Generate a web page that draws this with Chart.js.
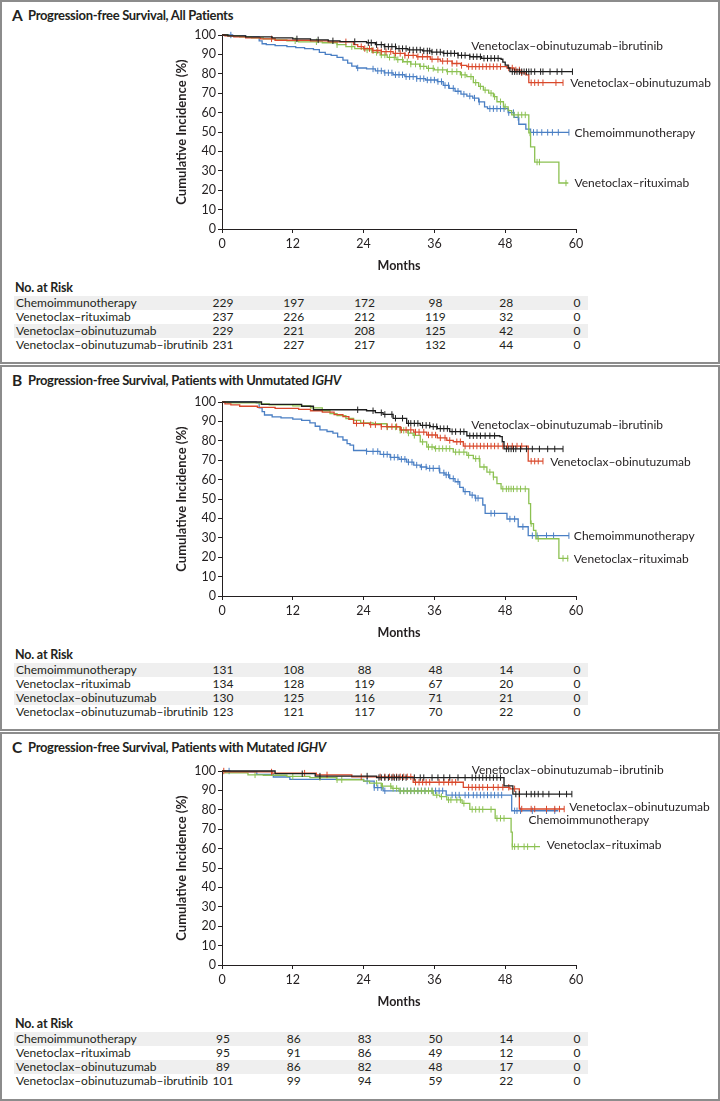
<!DOCTYPE html>
<html>
<head>
<meta charset="utf-8">
<script src="https://cdn.jsdelivr.net/npm/chart.js@4.4.1/dist/chart.umd.min.js"></script>
<style>
    body { margin: 0; width: 720px; height: 1101px; position: relative; background: #fff; overflow: hidden;
           font-family: Lato, "Open Sans", sans-serif; color: #231f20; }
    .frame { position: absolute; left: 0; width: 720px; border: 2px solid #8c8c8c; box-sizing: border-box; }
    .txt { position: absolute; white-space: nowrap; line-height: 16px; height: 16px; }
    .title { font-size: 13px; font-weight: bold; letter-spacing: -0.3px; }
    .letter { font-size: 15.5px; font-weight: bold; }
    .bold { font-weight: bold; font-size: 12.5px; letter-spacing: -0.2px; }
    .row { font-size: 12px; }
    .shade { position: absolute; background: #efefef; }
    canvas { position: absolute; left: 0; }
</style>
</head>
<body>
<script>
// Shared
const months = [0, 12, 24, 36, 48, 60];
const groups = ['Chemoimmunotherapy', 'Venetoclax–rituximab', 'Venetoclax–obinutuzumab', 'Venetoclax–obinutuzumab–ibrutinib'];
const colors = ['#4a7fc4', '#8cc152', '#d9482b', '#1e1e1e'];

// Panel A - all patients  [month, % progression-free]
const chemoA = [[0,100],[1.8,99.5],[4,99],[6.3,97],[6.8,95.5],[7.5,95],[9,94.5],[11,94],[12.5,93.5],[14,93],[15.5,92.5],[16.5,91],[17.5,90],[18.5,89.5],[19.5,88.5],[20.5,87],[21.3,85.5],[22,84],[22.8,83],[24.5,82.5],[26,81.5],[27.5,80.5],[29,79.5],[31,78.5],[33,77.5],[34.5,76.8],[36.5,76],[37.5,74],[38.5,72.5],[39.5,71],[40.5,69.5],[41.5,68.5],[42.5,67.5],[43.5,65.5],[44.5,63],[45,62],[48.5,60],[49.5,57.5],[50.3,54],[51.5,51.5],[52.3,49.8],[58.8,49.8]];
const vrA = [[0,100],[1,99.5],[3,99],[5,98.5],[7,98],[9,97.5],[11,97],[13,96.5],[17,96],[19.5,95],[21,94],[22.5,93],[24,92.3],[25.5,91],[26.8,89.7],[28,88.5],[29.5,87.3],[30.7,86.2],[32,85],[33.5,83.8],[34.7,82.8],[36,82],[38.1,81.1],[40.4,79.4],[41.5,78.5],[42.6,75.5],[43.5,73.5],[44.3,71.6],[45.2,70],[46,68.2],[46.6,65.6],[47.7,63],[48.5,61],[49.1,58.8],[52,49.5],[52.3,42.3],[53,34.5],[57.1,23.7],[58.7,23.7]];
const voA = [[0,100],[0.5,99.5],[2,99],[4,98.5],[6.5,98],[9,97.3],[15,97],[18,96.5],[22.3,95],[23,94],[24,93],[25.5,92],[27,91.4],[29,90.5],[31,89.5],[33,88.8],[35.3,87.5],[37,86.5],[39,85.3],[40.5,84.3],[41.5,83.7],[48.3,83],[49.5,82],[50.5,80.5],[51.5,79.4],[52,75.4],[57.8,75.4]];
const voiA = [[0,100],[1,99.5],[4,99],[8.5,98.5],[12,98],[15,97.5],[18,97],[20,96.6],[24.5,96],[26,95],[27.5,94],[29.5,93],[31.5,92.3],[34,91.8],[35.5,91.2],[37.5,90.5],[40,89.5],[42,88.8],[44,88],[47.3,87.5],[47.6,86],[48,84.5],[48.5,83],[48.8,81.1],[59.4,81.1]];
// censored observations (months)
const chemoCensA = [1.5,23,25.6,26.4,27,27.6,28.2,28.8,29.4,30,30.6,31.2,31.8,32.4,33,33.6,34.2,34.8,35.4,36,36.6,37.2,37.8,38.4,39.2,40,41,42,42.8,43.6,45.4,46,46.6,47.2,47.8,48.6,49.4,50.2,52.8,53.4,54.2,55.2,56,57,58.8];
const vrCensA = [12.4,16,19.5,22,24.6,25.4,26.2,27,27.6,28.4,29.2,29.8,30.6,31.4,32,32.8,33.6,34.2,35,35.8,36.6,37.4,38.2,39,39.8,40.6,41.2,42.2,43,43.8,44.6,45.6,46.2,47.2,48,49.5,50.2,50.8,51.4,52.2,53.4,53.8,58.3];
const voCensA = [8.4,21,23.6,24.2,25,25.6,26.4,27,27.8,28.6,29.4,30.2,31,31.6,32.4,33.2,34,34.8,35.6,36.6,37.4,38.2,39,39.8,40.6,41.8,42.4,43,43.6,44.2,44.8,45.4,46,46.6,47.2,48.6,49.2,49.8,50.4,50.8,52.4,53,53.6,54.4,56.6,57.8];
const voiCensA = [12.7,16.3,18.8,22.5,24.8,25.3,26.2,27,27.6,28.2,28.8,29.4,30,30.6,31.2,31.8,32.4,33,33.6,34.2,34.8,35.2,35.6,36.4,37,37.6,38.2,38.8,39.4,40,40.6,41.2,42,42.6,43.2,43.8,44.4,45,45.6,46.2,46.8,49.2,49.6,50,50.4,50.8,51.2,51.6,52,52.4,53,54,54.4,55.6,56.8,57.6,59.4];
const riskA = [[229,197,172,98,28,0],[237,226,212,119,32,0],[229,221,208,125,42,0],[231,227,217,132,44,0]];

// Panel B - unmutated IGHV
const chemoB = [[0,100],[5.8,99.5],[6.3,97],[6.8,95],[7.2,93.3],[8.5,92.3],[10,91.8],[12,91.2],[13.5,90.5],[14.9,89.2],[15.8,87.5],[16.6,85.6],[17.8,84.8],[18.8,84],[19.6,82],[20.5,80.4],[21.2,78.5],[21.7,77.8],[22.3,75],[24.5,74.5],[26.8,73],[28.5,71.5],[30,70.5],[31.3,69],[32.5,67.5],[33.6,66.5],[34.7,65.8],[36.9,63.5],[37.8,62.4],[38.6,60.5],[39.5,58.9],[40.3,56],[40.9,53.8],[42,52],[42.9,50.4],[44.2,46.9],[44.6,42.6],[48.3,39.7],[50.2,35.7],[51.9,31.1],[58.8,31.1]];
const vrB = [[0,100],[1,99.5],[6.4,99],[8,98.5],[12,98],[15,97],[17,95.5],[18.3,94],[19.5,93],[21,91.5],[22.3,90.5],[23.5,89.2],[25.6,88.8],[27.9,87.1],[30.2,85.4],[31.5,84],[32.4,82.8],[33.6,79.4],[34.7,76.8],[36,76],[39.2,74.2],[41.5,72.5],[42.6,70.8],[43.7,66.5],[44.9,63.9],[46,61.3],[46.6,57.9],[47.3,55.2],[52,47.6],[52.3,37.3],[52.8,33.8],[53.2,29.5],[57.1,19.4],[58.7,19.4]];
const voB = [[0,100],[0.5,99],[1.5,98.5],[3,97.8],[6,97.2],[9,96.7],[13,96.2],[15,95.5],[17,94.8],[19,93.5],[20.5,92.5],[21.5,91],[22.3,89],[25,88.3],[27,87.3],[30.2,85.6],[32.5,84.5],[34.7,83],[36.5,81.5],[38.1,80.2],[39.2,79.5],[40.9,77.3],[51.7,77.3],[51.9,69.5],[54.4,69.5]];
const voiB = [[0,100],[6.7,98.8],[13.5,97.8],[15.5,96],[24.5,95.5],[26,94.5],[27.3,93.6],[29,91.6],[31.3,89],[33.6,88],[35.3,87.3],[36.5,86.3],[38.6,84.7],[41.5,82.6],[47.1,82.2],[47.5,79.5],[47.8,75.8],[57.8,75.8]];
const chemoCensB = [24.5,25.6,26.4,27.4,28,28.6,29.2,29.8,30.4,31,31.6,32.2,33,33.8,34.6,35.2,35.8,36.8,37.6,38,38.4,39.2,40,41.2,42.4,43,43.4,45.6,46.2,48.8,49.6,51,52.6,53.4,55,56.2,58.8];
const vrCensB = [24,28,29.4,30.2,30.8,31.6,32.6,34,35,35.6,36.2,36.8,37.4,38,38.6,39.6,40.2,41,41.8,43,43.6,44.4,45.4,46,47.6,48.2,48.6,49,49.4,50,50.6,51.4,52.4,53.6,57.8,58.6];
const voCensB = [22.8,24,25.2,26,27,28,28.8,29.6,30.4,31.2,32,32.8,33.4,34.2,35,35.6,36.2,37,37.8,38.6,39.8,40.4,41.2,42,42.6,43.2,43.8,44.4,45,45.6,46.2,46.8,47.6,48.4,49.2,50,50.8,52.4,53,53.6,54.4];
const voiCensB = [23,25.6,27,27.6,28.8,29.4,30.6,31.6,32,32.6,33.2,34,34.6,35.2,35.8,36.4,37,37.6,38.2,39,39.6,40.4,41,42,42.6,43.2,43.8,44.6,45.4,46.2,48.2,48.6,49,49.4,49.8,50.6,51.6,52.6,53.8,55.2,56.4,57.8];
const riskB = [[131,108,88,48,14,0],[134,128,119,67,20,0],[130,125,116,71,21,0],[123,121,117,70,22,0]];

// Panel C - mutated IGHV
const chemoC = [[0,100],[1.3,99.5],[5.9,98.3],[8.7,96.9],[11.5,95.7],[24,94.8],[25.8,91.4],[27.3,89.8],[38,87.6],[49.1,79.5],[57,79.5]];
const vrC = [[0,100],[0.5,99],[4.4,98],[7,97.8],[11,97.2],[14.9,96.6],[19.4,95.5],[24,94.8],[25,93.7],[27,92.2],[28.8,91],[30,89.7],[35.8,87.6],[36.9,86.8],[38.1,85.1],[40.7,83.3],[42,80.2],[46.3,75.6],[49,68.5],[49.2,61],[53.9,61]];
const voC = [[0,100],[0.5,99.5],[8.5,98.9],[16,98],[22,97],[32.4,94.2],[40.9,91.6],[48.8,90.8],[50.4,80.4],[58,80.4]];
const voiC = [[0,100],[9,98.6],[15.8,97.4],[26.2,96.6],[47.8,92.3],[49.3,88.1],[59.3,88.1]];
const chemoCensC = [1.2,24.6,25.8,26.4,27,27.6,30.2,30.8,31.4,32,32.6,33.2,33.8,34.4,35,35.6,36.2,36.8,37.4,39,39.6,40.2,41.2,41.8,42.6,43.2,43.8,44.4,45,45.6,46.2,46.8,47.4,49.6,50,50.6,52.6,55,56.4];
const vrCensC = [5.6,12,16.6,19.5,20.3,26.2,27.2,28.6,29,29.6,30.2,30.8,31.4,32,32.6,33.2,33.8,34.4,35,35.6,36.4,37.2,38.4,38.8,39.8,40.4,41,42.4,43,43.6,44.2,45.6,46.6,47.2,47.8,49.2,49.6,50.2,51.2,51.8,53];
const voCensC = [0.3,8.4,14,17.8,23.6,26.8,27.6,28.4,29,29.6,30.2,30.8,31.4,32,32.8,33.4,34,34.6,35.2,36.8,37.6,38.4,39,39.6,41.8,42.4,43,43.6,44.2,45,46,46.8,47.6,48.6,49.6,50.8,52.4,53,55,56.4,57.2,58];
const voiCensC = [13.6,16.6,24.6,26.6,27,27.6,28.2,28.8,29.2,29.6,30,30.6,31.2,32.6,33.6,34.2,35.6,36.6,37.6,38.6,40,41.2,42.4,43,43.6,44.2,44.8,45.4,46,46.6,47.2,49.8,50.4,51.6,52.4,53,53.6,54.4,55.4,57.2,58.4,59.3];
const riskC = [[95,86,83,50,14,0],[95,91,86,49,12,0],[89,86,82,48,17,0],[101,99,94,59,22,0]];

// layout (page pixels) and curve-label anchors (months, %)
const panels = [
    { letter: 'A', title: 'Progression-free Survival, All Patients', italic: '', top: 0, height: 364, plotTop: 35,
      curves: [chemoA, vrA, voA, voiA], cens: [chemoCensA, vrCensA, voCensA, voiCensA], risk: riskA,
      labels: [[59.4, 49.6], [59.4, 23.6], [58.7, 75.3], [41.9, 94.3]] },
    { letter: 'B', title: 'Progression-free Survival, Patients with Unmutated ', italic: 'IGHV', top: 365, height: 366, plotTop: 402,
      curves: [chemoB, vrB, voB, voiB], cens: [chemoCensB, vrCensB, voCensB, voiCensB], risk: riskB,
      labels: [[59.3, 31.1], [59.3, 18.9], [55.3, 68.9], [41.9, 88.1]] },
    { letter: 'C', title: 'Progression-free Survival, Patients with Mutated ', italic: 'IGHV', top: 732, height: 369, plotTop: 771,
      curves: [chemoC, vrC, voC, voiC], cens: [chemoCensC, vrCensC, voCensC, voiCensC], risk: riskC,
      labels: [[51.6, 74.7], [54.7, 61.9], [58.5, 81.3], [42, 100.5]] }
];

const PLOT_H = 194;
const FONT = 'Lato, "Open Sans", sans-serif';

function addText(html, x, yc, cls, align) {
    const d = document.createElement('div');
    d.className = 'txt ' + cls;
    d.innerHTML = html;
    d.style.top = (yc - 8) + 'px';
    if (align === 'center') {
        d.style.left = (x - 50) + 'px';
        d.style.width = '100px';
        d.style.textAlign = 'center';
    } else {
        d.style.left = x + 'px';
    }
    document.body.appendChild(d);
}

// value of the step curve at time t (last point at or before t)
function survivalAt(curve, t) {
    let v = curve[0][1];
    curve.forEach(p => { if (p[0] <= t) v = p[1]; });
    return v;
}

const curveLabels = {
    id: 'curveLabels',
    afterDatasetsDraw(chart, args, opts) {
        const ctx = chart.ctx;
        ctx.save();
        ctx.font = '12px ' + FONT;
        ctx.fillStyle = '#231f20';
        ctx.textBaseline = 'middle';
        opts.items.forEach((l, i) => {
            ctx.fillText(groups[i], chart.scales.x.getPixelForValue(l[0]) + 2, chart.scales.y.getPixelForValue(l[1]));
        });
        ctx.restore();
    }
};

panels.forEach(p => {
    const frame = document.createElement('div');
    frame.className = 'frame';
    frame.style.top = p.top + 'px';
    frame.style.height = p.height + 'px';
    document.body.appendChild(frame);

    addText(p.letter, 12, p.top + 15, 'letter');
    addText(p.title + (p.italic ? '<i>' + p.italic + '</i>' : ''), 28, p.top + 15, 'title');

    const canvas = document.createElement('canvas');
    canvas.width = 720;
    canvas.height = 10 + PLOT_H + 44;
    canvas.style.top = (p.plotTop - 10) + 'px';
    document.body.appendChild(canvas);

    const datasets = [];
    // draw order: first dataset ends on top
    [3, 2, 1, 0].forEach(i => {
        datasets.push({
            data: p.curves[i].map(pt => ({ x: pt[0], y: pt[1] })),
            borderColor: colors[i], borderWidth: 1.3, stepped: 'before',
            pointRadius: 0, fill: false, clip: 6
        });
        datasets.push({
            data: p.cens[i].map(t => ({ x: t, y: survivalAt(p.curves[i], t) })),
            showLine: false, pointStyle: 'line', rotation: 90, pointRadius: 3.2,
            borderColor: colors[i], borderWidth: 1, clip: 6
        });
    });

    const chart = new Chart(canvas.getContext('2d'), {
        type: 'line',
        data: { datasets: datasets },
        options: {
            responsive: false, animation: false, events: [],
            layout: { padding: { top: 10, right: 144, left: 170, bottom: 0 } },
            plugins: { legend: { display: false }, tooltip: { enabled: false }, curveLabels: { items: p.labels } },
            scales: {
                x: {
                    type: 'linear', min: 0, max: 60,
                    afterFit: s => { s.height = 44; },
                    ticks: { stepSize: 12, padding: 3, color: '#231f20', font: { family: FONT, size: 12.5 } },
                    grid: { drawOnChartArea: false, tickLength: 4, color: '#231f20' },
                    border: { color: '#231f20', width: 1 },
                    title: { display: true, text: 'Months', color: '#231f20', padding: 0,
                             font: { family: FONT, size: 12.5, weight: 'bold' } }
                },
                y: {
                    min: 0, max: 100,
                    afterFit: s => { s.width = 52; },
                    ticks: { stepSize: 10, autoSkip: false, padding: 2, color: '#231f20', font: { family: FONT, size: 12.5 } },
                    grid: { drawOnChartArea: false, tickLength: 4, color: '#231f20' },
                    border: { color: '#231f20', width: 1 },
                    title: { display: true, text: 'Cumulative Incidence (%)', color: '#231f20', padding: { top: 4, bottom: 0 },
                             font: { family: FONT, size: 13, weight: 'bold' } }
                }
            }
        },
        plugins: [curveLabels]
    });

    // number at risk table, columns under the x ticks
    const base = p.plotTop + PLOT_H;
    addText('No. at Risk', 15, base + 59, 'bold');
    groups.forEach((g, r) => {
        const yc = base + 74 + r * 14;
        if (r % 2 === 0) {
            const sh = document.createElement('div');
            sh.className = 'shade';
            sh.style.left = '14px';
            sh.style.width = '574px';
            sh.style.top = (yc - 7) + 'px';
            sh.style.height = '14px';
            document.body.appendChild(sh);
        }
        addText(g, 16, yc, 'row');
        p.risk[r].forEach((n, c) => {
            addText(String(n), chart.scales.x.getPixelForValue(months[c]) + 1, yc, 'row', 'center');
        });
    });
});
</script>
</body>
</html>
